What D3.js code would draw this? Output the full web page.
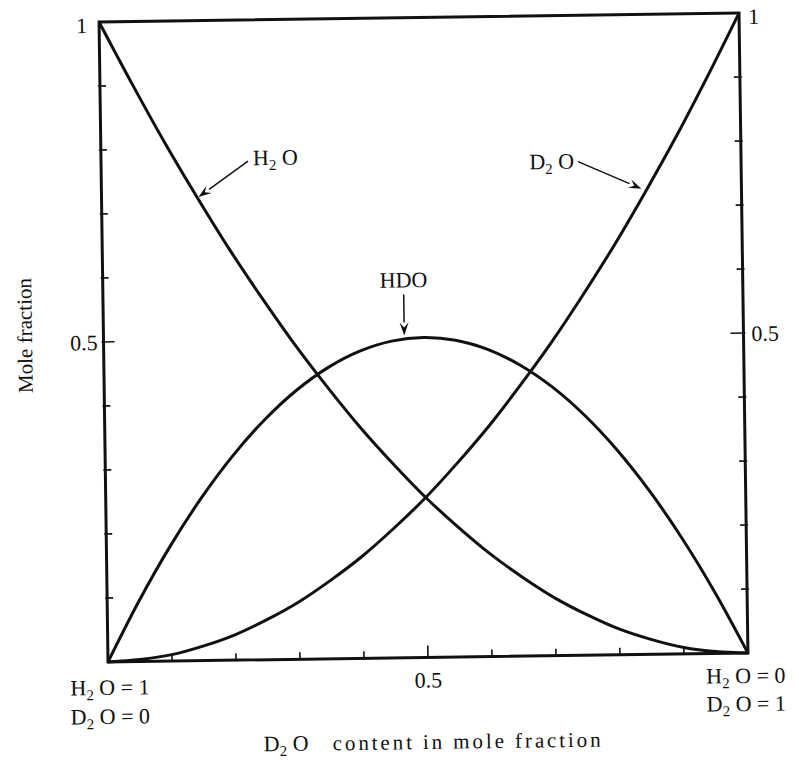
<!DOCTYPE html>
<html lang="en">
<head>
<meta charset="utf-8">
<title>Mole fraction of H2O, HDO, D2O</title>
<script src="https://d3js.org/d3.v7.min.js"></script>
<style>
  body { margin: 0; background: #fff; }
  svg text { font-family: "Liberation Serif", "Times New Roman", Times, "DejaVu Serif", serif; fill: #111; }
</style>
</head>
<body>
<script>
// D2O content (x) and mole fraction of each species
var content = [0, 0.05, 0.1, 0.15, 0.2, 0.25, 0.3, 0.35, 0.4, 0.45, 0.5,
               0.55, 0.6, 0.65, 0.7, 0.75, 0.8, 0.85, 0.9, 0.95, 1];
var h2o = [1.000, 0.903, 0.810, 0.723, 0.640, 0.563, 0.490, 0.423, 0.360, 0.303, 0.250,
           0.203, 0.160, 0.123, 0.090, 0.063, 0.040, 0.023, 0.010, 0.003, 0.000];
var hdo = [0.000, 0.095, 0.180, 0.255, 0.320, 0.375, 0.420, 0.455, 0.480, 0.495, 0.500,
           0.495, 0.480, 0.455, 0.420, 0.375, 0.320, 0.255, 0.180, 0.095, 0.000];
var d2o = [0.000, 0.003, 0.010, 0.023, 0.040, 0.063, 0.090, 0.123, 0.160, 0.203, 0.250,
           0.303, 0.360, 0.423, 0.490, 0.563, 0.640, 0.723, 0.810, 0.903, 1.000];
var minorTicks = [0.1, 0.2, 0.3, 0.4, 0.6, 0.7, 0.8, 0.9];

var w = 799, h = 767;
var x = d3.scaleLinear().domain([0, 1]).range([103.5, 743.5]);
var y = d3.scaleLinear().domain([0, 1]).range([657.5, 17.5]);

var svg = d3.select("body").append("svg")
  .attr("width", w).attr("height", h);

// the scanned figure is tilted slightly
var g = svg.append("g").attr("transform", "rotate(-0.8, 423.5, 337.5)");

// frame
g.append("rect")
  .attr("x", x(0)).attr("y", y(1))
  .attr("width", x(1) - x(0)).attr("height", y(0) - y(1))
  .attr("fill", "none").attr("stroke", "#111").attr("stroke-width", 3);

// ticks (all pointing inward)
function tickLen(t, big, small) { return t === 0.5 ? big : small; }
var yt = minorTicks.concat([0.5]);
g.selectAll(".ltick").data(yt).enter().append("line")
  .attr("x1", x(0) - 2).attr("x2", function(d) { return x(0) + tickLen(d, 11, 6); })
  .attr("y1", function(d) { return y(d); }).attr("y2", function(d) { return y(d); })
  .attr("stroke", "#111").attr("stroke-width", 1.6);
g.selectAll(".rtick").data(yt).enter().append("line")
  .attr("x1", x(1) + 2).attr("x2", function(d) { return x(1) - tickLen(d, 13, 6); })
  .attr("y1", function(d) { return y(d); }).attr("y2", function(d) { return y(d); })
  .attr("stroke", "#111").attr("stroke-width", 1.6);
g.selectAll(".btick").data(yt).enter().append("line")
  .attr("y1", y(0) + 1).attr("y2", function(d) { return y(0) - tickLen(d, 12, 7); })
  .attr("x1", function(d) { return x(d); }).attr("x2", function(d) { return x(d); })
  .attr("stroke", "#111").attr("stroke-width", 1.6);

// curves
var line = d3.line()
  .x(function(d, i) { return x(content[i]); })
  .y(function(d) { return y(d); })
  .curve(d3.curveCatmullRom.alpha(0.5));

[h2o, hdo, d2o].forEach(function(s) {
  g.append("path").datum(s)
    .attr("d", line)
    .attr("fill", "none").attr("stroke", "#111").attr("stroke-width", 3);
});

// tick labels
var fs = 22;
function label(tx, ty, str, anchor) {
  return g.append("text").attr("x", tx).attr("y", ty)
    .attr("text-anchor", anchor || "start").attr("font-size", fs).text(str);
}
label(x(0) - 12, y(1) + 11, "1", "end");
label(x(0) - 6, y(0.5) + 8, "0.5", "end");
label(x(1) + 9, y(1) + 11, "1", "start");
label(x(1) + 8, y(0.5) + 8, "0.5", "start");
label(x(0.5), y(0) + 30, "0.5", "middle");

// chemical formula text with subscript 2
function formula(tx, ty, a, b, anchor) {
  var t = g.append("text").attr("x", tx).attr("y", ty)
    .attr("font-size", fs).attr("text-anchor", anchor || "start");
  t.append("tspan").text(a);
  t.append("tspan").attr("font-size", 15).attr("dy", 5).text("2");
  t.append("tspan").attr("dy", -5).text(b);
  return t;
}
formula(x(0) - 38, y(0) + 33, "H", " O = 1");
formula(x(0) - 38, y(0) + 62, "D", " O = 0");
formula(x(1) - 42, y(0) + 30, "H", " O = 0");
formula(x(1) - 42, y(0) + 58, "D", " O = 1");

// axis titles
g.append("text")
  .attr("transform", "translate(32, 330) rotate(-90)")
  .attr("text-anchor", "middle").attr("font-size", 21)
  .text("Mole fraction");
formula(258, 749, "D", " O");
g.append("text").attr("x", 327).attr("y", 749)
  .attr("font-size", 21)
  .attr("textLength", 268).attr("lengthAdjust", "spacing")
  .text("content in mole fraction");

// annotations with arrows
function arrow(x1, y1, x2, y2) {
  var ang = Math.atan2(y2 - y1, x2 - x1);
  var L = 13, W = 4.5;
  var bx = x2 - L * Math.cos(ang), by = y2 - L * Math.sin(ang);
  var px = -Math.sin(ang) * W, py = Math.cos(ang) * W;
  g.append("line").attr("x1", x1).attr("y1", y1).attr("x2", bx).attr("y2", by)
    .attr("stroke", "#111").attr("stroke-width", 1.5);
  g.append("path")
    .attr("d", "M" + x2 + "," + y2 + "L" + (bx + px) + "," + (by + py) +
      "L" + (x2 - 0.6 * L * Math.cos(ang)) + "," + (y2 - 0.6 * L * Math.sin(ang)) +
      "L" + (bx - px) + "," + (by - py) + "Z")
    .attr("fill", "#111");
}

// H2O label near x = 0.15
var tH = [x(content[3]) - 1, y(h2o[3])];
arrow(tH[0] + 52, tH[1] - 36, tH[0] + 2, tH[1] - 1);
formula(tH[0] + 57, tH[1] - 32, "H", " O");

// D2O label near x = 0.85
var tD = [x(content[17]) - 1, y(d2o[17])];
arrow(tD[0] - 66, tD[1] - 31, tD[0] - 3, tD[1] - 3);
formula(tD[0] - 70, tD[1] - 24, "D", " O", "end");

// HDO label above the maximum
var tM = [x(0.47), y(0.499)];
arrow(tM[0], tM[1] - 44, tM[0], tM[1] - 3);
label(tM[0], tM[1] - 51, "HDO", "middle");
</script>
</body>
</html>
